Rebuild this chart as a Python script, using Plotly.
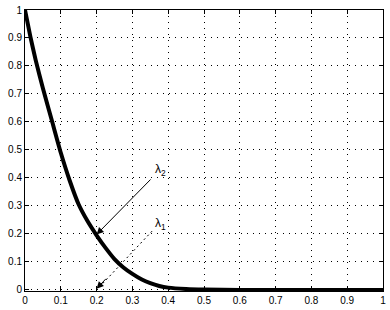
import plotly.graph_objects as go

# data
x_vals = [0, 0.015, 0.03, 0.05, 0.075, 0.1, 0.125, 0.15, 0.175, 0.2, 0.225, 0.25,
          0.275, 0.3, 0.325, 0.35, 0.375, 0.4, 0.45, 0.5, 0.6, 0.7, 0.8, 0.9, 1.0]
lambda2 = [1.0, 0.905, 0.82, 0.72, 0.605, 0.49, 0.39, 0.305, 0.245, 0.195, 0.15, 0.11,
           0.08, 0.057, 0.038, 0.024, 0.014, 0.008, 0.003, 0.001, 0, 0, 0, 0, 0]
tick_vals = [0, 0.1, 0.2, 0.3, 0.4, 0.5, 0.6, 0.7, 0.8, 0.9, 1]
tick_text = ["0", "0.1", "0.2", "0.3", "0.4", "0.5", "0.6", "0.7", "0.8", "0.9", "1"]

fig = go.Figure()
fig.add_trace(go.Scatter(x=x_vals, y=lambda2, mode="lines",
                         line=dict(color="black", width=4, shape="spline", smoothing=0.6),
                         showlegend=False, hoverinfo="skip"))

axis_common = dict(
    showline=True, linecolor="black", linewidth=1, mirror="ticks",
    ticks="inside", ticklen=4, tickcolor="black", tickwidth=1,
    showgrid=True, gridcolor="black", gridwidth=1, griddash="1px,5px",
    zeroline=False, tickvals=tick_vals, ticktext=tick_text,
    tickfont=dict(family="Liberation Sans", size=10, color="black"),
)
fig.update_xaxes(range=[0, 1], **axis_common)
fig.update_yaxes(range=[-0.004, 1.0], **axis_common)

font_ann = dict(family="Liberation Sans", size=12, color="black")
# lambda2 arrow to (0.2, 0.2)
fig.add_annotation(x=0.2, y=0.198, ax=0.355, ay=0.40, xref="x", yref="y",
                   axref="x", ayref="y", showarrow=True, arrowhead=2,
                   arrowsize=1.4, arrowwidth=1, arrowcolor="black", text="")
fig.add_annotation(x=0.378, y=0.43, xref="x", yref="y", text="λ<sub>2</sub>",
                   showarrow=False, font=font_ann)
# lambda1 arrow to (0.2, 0)
fig.add_shape(type="line", x0=0.355, y0=0.21, x1=0.215, y1=0.02, xref="x", yref="y",
              line=dict(color="black", width=1, dash="2px,3px"))
fig.add_annotation(x=0.2, y=0.004, ax=0.23, ay=0.045, xref="x", yref="y",
                   axref="x", ayref="y", showarrow=True, arrowhead=2,
                   arrowsize=1.4, arrowwidth=1, arrowcolor="black", text="")
fig.add_annotation(x=0.378, y=0.235, xref="x", yref="y", text="λ<sub>1</sub>",
                   showarrow=False, font=font_ann)

fig.update_layout(width=390, height=310, margin=dict(l=25, r=4, t=9, b=19),
                  paper_bgcolor="white", plot_bgcolor="white")
fig.write_html("out.html", config={"displayModeBar": False},
               post_script="document.body.style.margin='0';document.body.style.overflow='hidden';")
